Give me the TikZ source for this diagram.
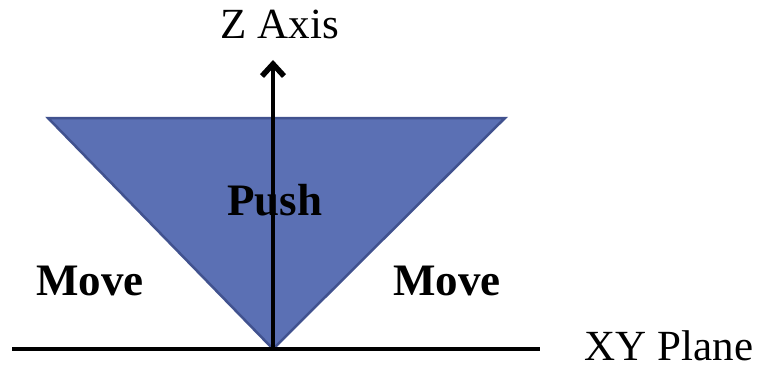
\documentclass[tikz,border=0pt]{standalone}
\usepackage{fontspec}
\setmainfont{Liberation Serif}
\usepackage{xcolor}
\usetikzlibrary{arrows.meta,positioning,calc}
\definecolor{ConeFill}{HTML}{5B70B4}
\definecolor{ConeEdge}{HTML}{41528F}
\definecolor{Ink}{HTML}{000000}
\tikzset{
  cone/.style={fill=ConeFill,draw=ConeEdge,line width=2.5pt,line join=miter},
  axis/.style={-{Straight Barb[length=12pt,width=22pt,line width=5.5pt]},draw=Ink,line width=4.5pt},
  plane/.style={draw=Ink,line width=4pt},
  lbl/.style={font=\fontsize{43}{46}\selectfont,text=Ink,inner sep=0pt,anchor=base},
  bold/.style={font=\fontsize{45}{48}\selectfont\bfseries,text=Ink,inner sep=0pt,anchor=base}
}

\begin{document}
\begin{tikzpicture}[x=1pt,y=-1pt]
  \useasboundingbox (0,0) rectangle (760,369);
  \coordinate (apex) at (273,349);
  \coordinate (ztop) at (273,60);
  \coordinate (pleft) at (12,349);
  \coordinate (pright) at (540,349);
  \filldraw[cone] (48,118) -- (505,118) -- (apex) -- cycle;
  \draw[plane] (pleft) -- (pright);
  \draw[axis] (apex) -- (ztop);
  \node[lbl] (zlabel) at (280,38) {Z Axis};
  \node[lbl] (xylabel) at (669,360) {XY Plane};
  \node[bold] (push) at (275,215) {Push};
  \node[bold] (moveL) at (90,295) {Move};
  \node[bold] (moveR) at (447,295) {Move};
\end{tikzpicture}
\end{document}
